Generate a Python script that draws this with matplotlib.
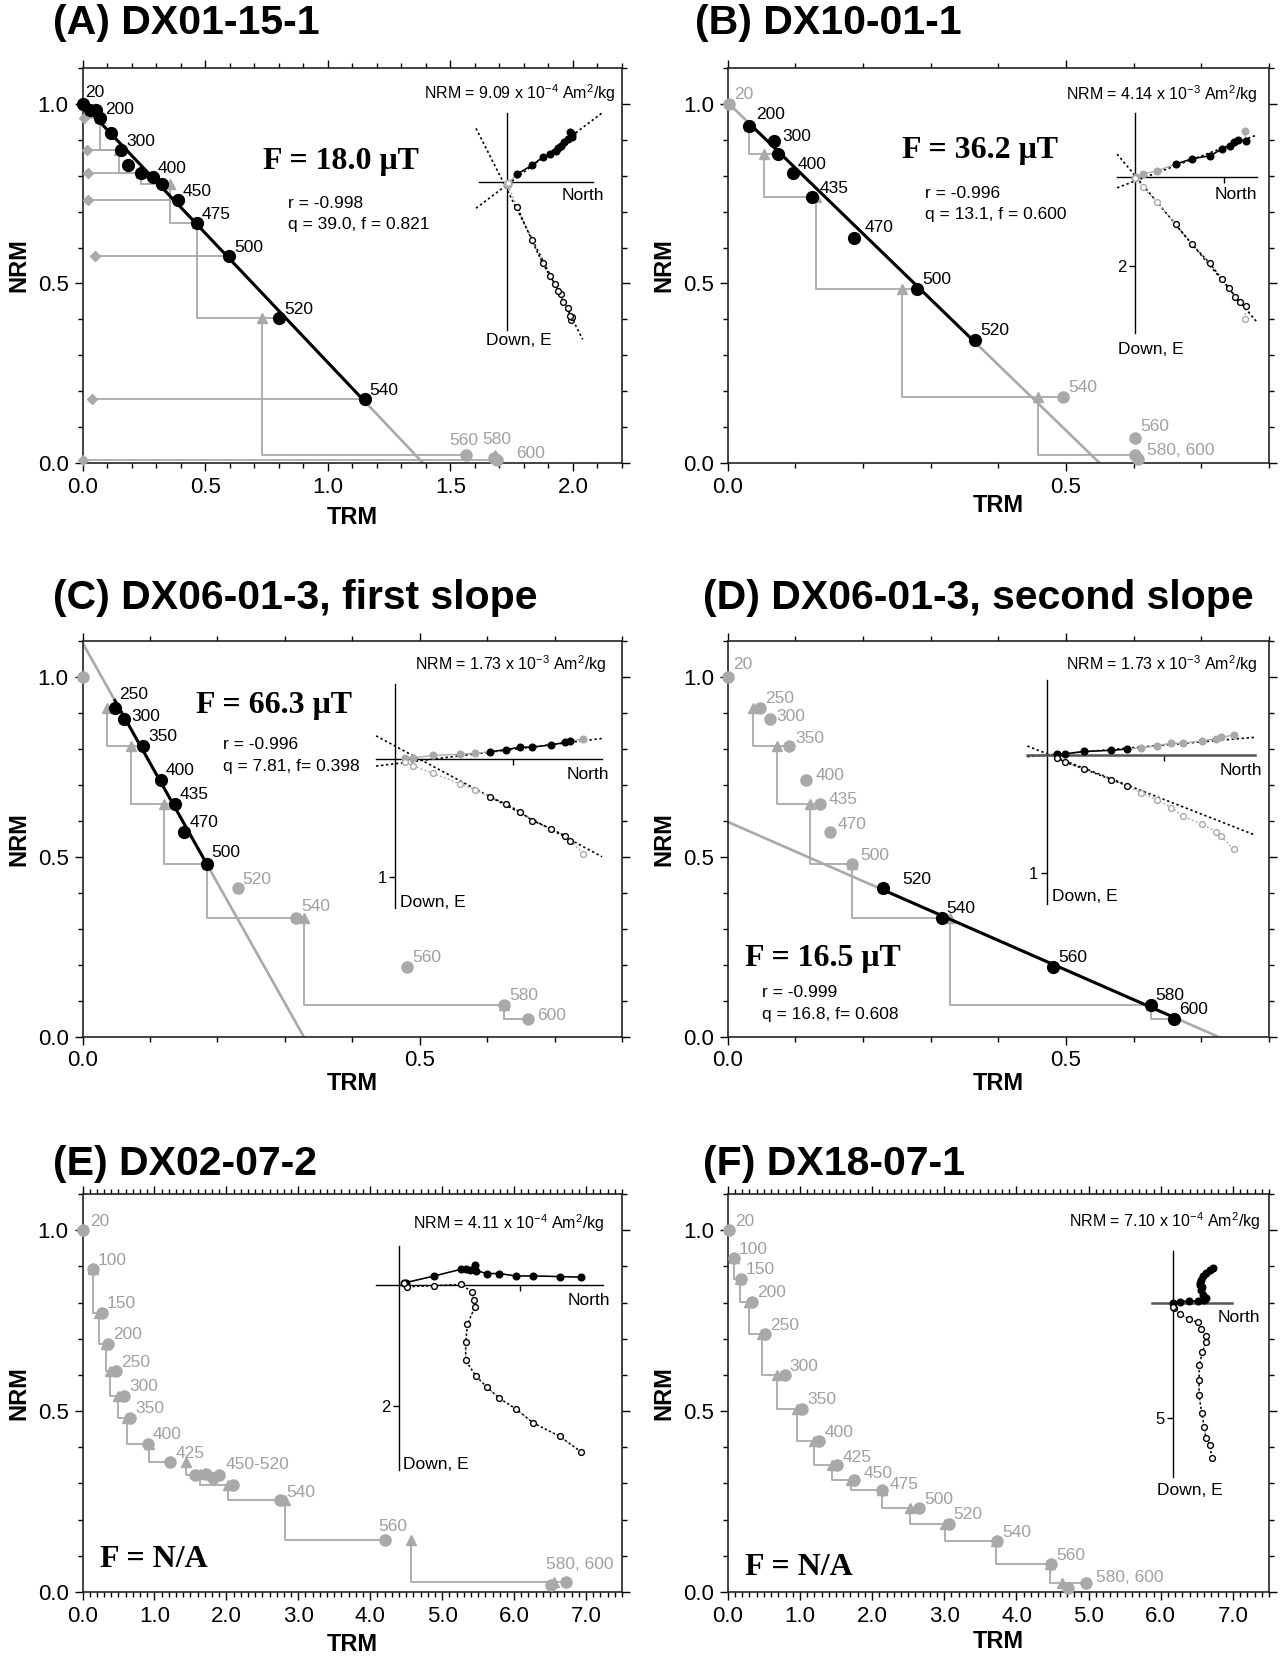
"""Arai plots with Zijderveld insets for six Thellier specimens."""

import matplotlib
matplotlib.use("Agg")
import matplotlib.pyplot as plt
from matplotlib.ticker import FormatStrFormatter, MultipleLocator

plt.rcParams["font.family"] = ["Liberation Sans", "DejaVu Sans"]
plt.rcParams["mathtext.fontset"] = "custom"
plt.rcParams["mathtext.rm"] = "Liberation Sans"
plt.rcParams["mathtext.it"] = "Liberation Sans:italic"
plt.rcParams["mathtext.bf"] = "Liberation Sans:bold"

W, H = 1281, 1659
GRAY = "#a9a9a9"
TEXT_GRAY = "#a0a0a0"

# ---------------- (A) DX01-15-1 ----------------
temps_a = [20, 100, 150, 200, 250, 300, 325, 350, 400, 425, 450, 475, 500, 520, 540, 560, 580, 600]
trm_a = [0.003, 0.030, 0.055, 0.072, 0.117, 0.159, 0.187, 0.237, 0.287, 0.325, 0.389, 0.467,
         0.599, 0.801, 1.150, 1.564, 1.677, 1.689]
nrm_a = [1.000, 0.983, 0.982, 0.960, 0.919, 0.871, 0.829, 0.806, 0.795, 0.776, 0.731, 0.668,
         0.576, 0.404, 0.178, 0.023, 0.016, 0.009]
fit_a = (20, 540)
line_a = (1.0, 1.39)  # y- and x-intercept of the fitted line
checks_a = [(200, 300, 0.072), (300, 350, 0.150), (350, 425, 0.240), (425, 475, 0.356),
            (475, 520, 0.465), (520, 560, 0.730), (560, 580, 1.681)]
tails_a = [(200, 0.007), (300, 0.018), (350, 0.022), (450, 0.022), (500, 0.052), (540, 0.037), (600, 0.0)]
labels_a = [(20, "20"), (200, "200"), (300, "300"), (400, "400"), (450, "450"), (475, "475"),
            (500, "500"), (520, "520"), (540, "540"), (560, "560"), (580, "580"), (600, "600")]
stats_a = ["F = 18.0 μT", "r = -0.998", "q = 39.0, f = 0.821"]
nrm_txt_a = ("9.09", "-4")

# Zijderveld inset A
hn_a = [1.90, 1.97, 1.95, 1.84, 1.72, 1.62, 1.55, 1.48, 1.30, 1.08, 0.75, 0.32, 0.03, 0.02, 0.03]
he_a = [-1.50, -1.43, -1.35, -1.27, -1.20, -1.08, -1.00, -0.93, -0.83, -0.73, -0.49, -0.23, 0.05, 0.06, 0.07]
vn_a = [1.92, 1.97, 1.90, 1.85, 1.70, 1.62, 1.55, 1.45, 1.30, 1.08, 0.75, 0.32, 0.03, 0.02, 0.03]
vd_a = [4.15, 4.05, 4.03, 3.80, 3.62, 3.37, 3.27, 3.08, 2.83, 2.45, 1.75, 0.77, 0.10, 0.08, 0.05]
zfit_a = [(-0.756, 0.10, -0.92, 2.85), (1.978, 0.22, -0.92, 2.28)]

# ---------------- (B) DX10-01-1 ----------------
temps_b = [20, 200, 300, 350, 400, 435, 470, 500, 520, 540, 560, 580, 600]
trm_b = [0.002, 0.032, 0.069, 0.074, 0.096, 0.124, 0.186, 0.280, 0.366, 0.496, 0.602, 0.602, 0.606]
nrm_b = [1.000, 0.938, 0.897, 0.860, 0.806, 0.740, 0.627, 0.485, 0.343, 0.185, 0.071, 0.022, 0.011]
fit_b = (200, 520)
line_b = (1.003, 0.55)
checks_b = [(200, 350, 0.032), (350, 435, 0.053), (435, 500, 0.131), (500, 540, 0.258), (540, 580, 0.459)]
labels_b = [(20, "20"), (200, "200"), (300, "300"), (400, "400"), (435, "435"), (470, "470"),
            (500, "500"), (520, "520"), (540, "540"), (560, "560"), (580, "580, 600")]
stats_b = ["F = 36.2 μT", "r = -0.996", "q = 13.1, f = 0.600"]
nrm_txt_b = ("4.14", "-3")

hn_b = [2.46, 2.48, 2.30, 2.22, 2.13, 1.95, 1.68, 1.27, 0.91, 0.49, 0.17, 0.02, 0.0]
he_b = [-1.03, -0.81, -0.82, -0.78, -0.69, -0.62, -0.47, -0.40, -0.28, -0.13, -0.06, 0.01, 0.02]
vn_b = [2.46, 2.48, 2.34, 2.24, 2.11, 1.94, 1.68, 1.27, 0.91, 0.49, 0.17, 0.02, 0.0]
vd_b = [3.19, 2.89, 2.80, 2.69, 2.50, 2.29, 1.94, 1.51, 1.07, 0.56, 0.24, 0.04, 0.02]
zfit_b = [(-0.378, 0.097, -0.40, 2.72), (1.202, -0.025, -0.40, 2.74)]

# ---------------- (C) / (D) DX06-01-3 ----------------
temps_c = [20, 250, 300, 350, 400, 435, 470, 500, 520, 540, 560, 580, 600]
trm_c = [0.0, 0.048, 0.062, 0.090, 0.116, 0.137, 0.151, 0.184, 0.230, 0.316, 0.481, 0.625, 0.660]
nrm_c = [1.0, 0.915, 0.883, 0.809, 0.714, 0.648, 0.569, 0.481, 0.412, 0.331, 0.194, 0.089, 0.050]
fit_c = (250, 500)
line_c = (1.095, 0.328)
fit_d = (520, 600)
line_d = (0.597, 0.7245)
checks_c = [(250, 350, 0.037), (350, 435, 0.072), (435, 500, 0.121), (500, 540, 0.184),
            (540, 580, 0.329), (580, 600, 0.625)]
labels_c = [(250, "250"), (300, "300"), (350, "350"), (400, "400"), (435, "435"), (470, "470"),
            (500, "500"), (520, "520"), (540, "540"), (560, "560"), (580, "580"), (600, "600")]
labels_d = [(20, "20")] + labels_c
stats_c = ["F = 66.3 μT", "r = -0.996", "q = 7.81, f= 0.398"]
stats_d = ["F = 16.5 μT", "r = -0.999", "q = 16.8, f= 0.608"]
nrm_txt_c = ("1.73", "-3")

hn_c = [1.59, 1.48, 1.44, 1.32, 1.16, 1.06, 0.94, 0.80, 0.68, 0.55, 0.32, 0.155, 0.085]
he_c = [-0.17, -0.15, -0.14, -0.12, -0.10, -0.10, -0.08, -0.06, -0.05, -0.04, -0.03, -0.01, -0.01]
vn_c = [1.59, 1.48, 1.44, 1.32, 1.16, 1.06, 0.94, 0.80, 0.68, 0.55, 0.32, 0.155, 0.085]
vd_c = [0.80, 0.69, 0.65, 0.59, 0.52, 0.45, 0.38, 0.32, 0.26, 0.21, 0.12, 0.06, 0.025]
zfit_c = [(-0.122, 0.04, -0.16, 1.75), (0.535, -0.11, -0.16, 1.75)]
zfit_d = [(-0.085, 0.0, -0.164, 1.77), (0.391, -0.012, -0.164, 1.77)]

# ---------------- (E) DX02-07-2 ----------------
temps_e = [20, 100, 150, 200, 250, 300, 350, 400, 425, 450, 475, 490, 500, 520, 540, 560, 580, 600]
trm_e = [0.01, 0.14, 0.27, 0.36, 0.47, 0.58, 0.66, 0.91, 1.22, 1.56, 1.71, 1.82, 1.90, 2.09,
         2.74, 4.21, 6.72, 6.51]
nrm_e = [1.000, 0.892, 0.772, 0.686, 0.610, 0.542, 0.481, 0.410, 0.359, 0.323, 0.327, 0.315,
         0.324, 0.297, 0.255, 0.145, 0.029, 0.018]
checks_e = [(100, 150, 0.14), (150, 200, 0.23), (200, 250, 0.32), (250, 300, 0.38), (300, 350, 0.50),
            (350, 400, 0.62), (400, 425, 0.92), (425, 450, 1.44), (475, 520, 1.64), (520, 540, 2.02),
            (540, 560, 2.82), (560, 580, 4.56), (580, 600, 6.56)]
labels_e = [(20, "20"), (100, "100"), (150, "150"), (200, "200"), (250, "250"), (300, "300"),
            (350, "350"), (400, "400"), (425, "425"), (520, "450-520"), (540, "540"), (560, "560"),
            (580, "580, 600")]
stats_e = ["F = N/A"]
nrm_txt_e = ("4.11", "-4")

hn_e = [3.02, 2.66, 2.21, 1.93, 1.66, 1.45, 1.27, 1.25, 1.23, 1.17, 1.10, 1.02, 0.58, 0.11, 0.07]
he_e = [-0.13, -0.14, -0.15, -0.15, -0.19, -0.19, -0.24, -0.33, -0.26, -0.25, -0.27, -0.26, -0.15, -0.04, -0.03]
vn_e = [3.02, 2.66, 2.21, 1.93, 1.66, 1.45, 1.27, 1.10, 1.10, 1.13, 1.25, 1.24, 1.20, 1.02, 0.58, 0.12, 0.07]
vd_e = [2.77, 2.51, 2.28, 2.05, 1.88, 1.69, 1.51, 1.25, 0.95, 0.65, 0.37, 0.25, 0.11, -0.01, 0.01, 0.03, -0.03]

# ---------------- (F) DX18-07-1 ----------------
temps_f = [20, 100, 150, 200, 250, 300, 350, 400, 425, 450, 475, 500, 520, 540, 560, 580, 600]
trm_f = [0.015, 0.08, 0.18, 0.34, 0.52, 0.79, 1.03, 1.27, 1.51, 1.75, 2.13, 2.65, 3.06, 3.73,
         4.48, 4.97, 4.72]
nrm_f = [1.000, 0.923, 0.866, 0.802, 0.712, 0.599, 0.507, 0.417, 0.350, 0.309, 0.282, 0.231,
         0.189, 0.140, 0.077, 0.026, 0.012]
checks_f = [(100, 150, 0.09), (150, 200, 0.17), (200, 250, 0.30), (250, 300, 0.47), (300, 350, 0.68),
            (350, 400, 0.96), (400, 425, 1.20), (425, 450, 1.45), (450, 475, 1.71), (475, 500, 2.13),
            (500, 520, 2.52), (520, 540, 3.01), (540, 560, 3.72), (560, 580, 4.47), (580, 600, 4.63)]
labels_f = [(t, str(t)) for t in temps_f[:-2]] + [(580, "580, 600")]
stats_f = ["F = N/A"]
nrm_txt_f = ("7.10", "-4")

hn_f = [1.71, 1.59, 1.42, 1.28, 1.20, 1.17, 1.16, 1.23, 1.19, 1.28, 1.42, 1.38, 1.33, 1.09, 0.70, 0.29, 0.0]
he_f = [-1.52, -1.45, -1.33, -1.19, -1.01, -0.90, -0.80, -0.70, -0.58, -0.36, -0.22, -0.17, -0.14,
        -0.10, -0.10, -0.07, 0.0]
vn_f = [1.68, 1.59, 1.41, 1.35, 1.23, 1.12, 1.12, 1.13, 1.26, 1.41, 1.42, 1.20, 1.06, 0.70, 0.29, 0.02, 0.0]
vd_f = [6.71, 6.16, 5.84, 5.39, 4.75, 3.99, 3.33, 2.68, 2.13, 1.70, 1.42, 1.12, 0.83, 0.70, 0.46, 0.20, 0.14]


panels = [
    dict(title="(A) DX01-15-1", temps=temps_a, trm=trm_a, nrm=nrm_a, fit=fit_a, line=line_a,
         checks=checks_a, tails=tails_a, labels=labels_a, stats=stats_a, nrm_txt=nrm_txt_a,
         xmax=2.2, xmajor=0.5,
         zij=dict(hn=hn_a, he=he_a, vn=vn_a, vd=vd_a, black=slice(0, 12), fits=zfit_a, nt=[], dt=[])),
    dict(title="(B) DX10-01-1", temps=temps_b, trm=trm_b, nrm=nrm_b, fit=fit_b, line=line_b,
         checks=checks_b, tails=[], labels=labels_b, stats=stats_b, nrm_txt=nrm_txt_b,
         xmax=0.8, xmajor=0.5,
         zij=dict(hn=hn_b, he=he_b, vn=vn_b, vd=vd_b, black=slice(1, 9), fits=zfit_b, nt=[2], dt=[2])),
    dict(title="(C) DX06-01-3, first slope", temps=temps_c, trm=trm_c, nrm=nrm_c, fit=fit_c,
         line=line_c, checks=checks_c, tails=[], labels=labels_c, stats=stats_c, nrm_txt=nrm_txt_c,
         xmax=0.8, xmajor=0.5,
         zij=dict(hn=hn_c, he=he_c, vn=vn_c, vd=vd_c, black=slice(1, 8), fits=zfit_c, nt=[1], dt=[1])),
    dict(title="(D) DX06-01-3, second slope", temps=temps_c, trm=trm_c, nrm=nrm_c, fit=fit_d,
         line=line_d, checks=checks_c, tails=[], labels=labels_d, stats=stats_d, nrm_txt=nrm_txt_c,
         xmax=0.8, xmajor=0.5,
         zij=dict(hn=hn_c, he=he_c, vn=vn_c, vd=vd_c, black=slice(8, 13), fits=zfit_d, nt=[1], dt=[1])),
    dict(title="(E) DX02-07-2", temps=temps_e, trm=trm_e, nrm=nrm_e, fit=None, line=None,
         checks=checks_e, tails=[], labels=labels_e, stats=stats_e, nrm_txt=nrm_txt_e,
         xmax=7.5, xmajor=1.0,
         zij=dict(hn=hn_e, he=he_e, vn=vn_e, vd=vd_e, black=slice(0, None), fits=[], nt=[2], dt=[2])),
    dict(title="(F) DX18-07-1", temps=temps_f, trm=trm_f, nrm=nrm_f, fit=None, line=None,
         checks=checks_f, tails=[], labels=labels_f, stats=stats_f, nrm_txt=nrm_txt_f,
         xmax=7.5, xmajor=1.0,
         zij=dict(hn=hn_f, he=he_f, vn=vn_f, vd=vd_f, black=slice(0, None), fits=[], nt=[], dt=[5])),
]

# layout in pixels of the 1281 x 1659 canvas
COLS = [(82.5, 622.0), (727.8, 1269.0)]
ROWS = [(67.7, 463.3), (641.0, 1036.6), (1194.0, 1592.0)]
layout = [
    dict(title_xy=(53, 23), xlab=-0.138, nrm_xy=(0.988, 0.935),
         stat_xy=[(0.738, 0.839), (0.838, 0.722), (0.838, 0.664)],
         offsets={20: (2, 11), 560: (-17, 15), 580: (-11, 18), 600: (19, 7)},
         inset=dict(origin=(506.7, 181.7), unit=33.33, nlim=(-0.82, 2.6), dlim=(-2.05, 4.45),
                    north=(10.7, -6.7), down=(-20.7, -3.3), haxis=("black", 1.0))),
    dict(title_xy=(695, 23), xlab=-0.107, nrm_xy=(0.978, 0.933),
         stat_xy=[(0.258, 0.869), (0.291, 0.751), (0.291, 0.692)],
         offsets={200: (7, 11), 300: (8, 4), 435: (8, 9), 470: (11, 10), 560: (5, 11), 580: (12, 5)},
         inset=dict(origin=(1135.0, 176.7), unit=44.67, nlim=(-0.40, 2.74), dlim=(-1.43, 3.51),
                    north=(0, -10.7), down=(-16.7, -8.3), haxis=("black", 1.0))),
    dict(title_xy=(53, 598), xlab=-0.118, nrm_xy=(0.971, 0.941),
         stat_xy=[(0.168, 0.920), (0.208, 0.811), (0.208, 0.751)],
         offsets={250: (4, 13), 300: (7, 3), 500: (5, 11), 540: (6, 11), 600: (10, 3)},
         inset=dict(origin=(395.0, 759.0), unit=118.3, nlim=(-0.16, 1.75), dlim=(-0.63, 1.26),
                    north=(7, -8.3), down=(5, 12.7), haxis=("black", 1.0))),
    dict(title_xy=(703, 598), xlab=-0.118, nrm_xy=(0.978, 0.941),
         stat_xy=[(0.025, 0.216), (0.050, 0.124), (0.050, 0.062)],
         offsets={20: (5, 12), 300: (7, 3), 350: (7, 7), 400: (9, 4), 435: (8, 4), 470: (8, 7),
                  500: (8, 8), 520: (19, 9)},
         inset=dict(origin=(1046.7, 755.0), unit=117.7, nlim=(-0.164, 1.77), dlim=(-0.64, 1.27),
                    north=(6.7, -8.3), down=(5, 15), haxis=("#555555", 1.8))),
    dict(title_xy=(53, 1164), xlab=-0.133, nrm_xy=(0.968, 0.927),
         stat_xy=[(0.246, 0.089)],
         offsets={20: (7, 9), 520: (-7, 20), 540: (7, 7), 560: (-7, 13), 580: (-20, 17)},
         inset=dict(origin=(399.3, 1285.0), unit=60.33, nlim=(-0.38, 3.38), dlim=(-0.65, 3.07),
                    north=(7.3, -8.3), down=(4, 13), haxis=("black", 1.0))),
    dict(title_xy=(703, 1164), xlab=-0.125, nrm_xy=(0.984, 0.932),
         stat_xy=[(0.232, 0.069)],
         offsets={20: (6, 9), 425: (6, 8), 450: (10, 7), 475: (8, 5), 580: (10, 5)},
         inset=dict(origin=(1173.3, 1303.3), unit=23.0, nlim=(-0.94, 2.54), dlim=(-2.29, 7.54),
                    north=(28.3, -6.7), down=(-16.7, -6.7), haxis=("#555555", 1.8))),
]


def in_fit(fit, t):
    return fit is not None and fit[0] <= t <= fit[1]


def draw_arai(ax, p, lay):
    pos = {t: (x, y) for t, x, y in zip(p["temps"], p["trm"], p["nrm"])}
    fit = p["fit"]

    if p["line"] is not None:
        y0, x0 = p["line"]
        ax.plot([0, x0], [y0, 0], color=GRAY, lw=1.9, zorder=1, solid_capstyle="butt")
        xs = [pos[fit[0]][0], pos[fit[1]][0]]
        ax.plot(xs, [y0 * (1 - x / x0) for x in xs], color="black", lw=2.2, zorder=4)

    for j, i, xc in p["checks"]:
        yj = pos[j][1]
        xi, yi = pos[i]
        ax.plot([xc, xc, xi], [yj, yi, yi], color=GRAY, lw=1.3, zorder=2, clip_on=False)
        ax.plot(xc, yj, "^", color=GRAY, ms=7, zorder=3, clip_on=False)

    for t, xt in p["tails"]:
        x, y = pos[t]
        ax.plot([xt, x], [y, y], color=GRAY, lw=1.3, zorder=2, clip_on=False)
        ax.plot(xt, y, "D", color=GRAY, ms=5, zorder=3, clip_on=False)

    for t, x, y in zip(p["temps"], p["trm"], p["nrm"]):
        black = in_fit(fit, t)
        ax.plot(x, y, "o", color="black" if black else GRAY, ms=8.5 if black else 8,
                zorder=5 if black else 3, clip_on=False)

    for t, text in p["labels"]:
        dx, dy = lay["offsets"].get(t, (5, 9))
        ax.annotate(text, pos[t], xytext=(dx, dy), textcoords="offset pixels",
                    ha="left", va="center", fontsize=12.5,
                    color="black" if in_fit(fit, t) else TEXT_GRAY, zorder=6)

    (fx, fy) = lay["stat_xy"][0]
    ax.text(fx, fy, p["stats"][0], family=["Liberation Serif", "DejaVu Serif"],
            fontweight="bold", fontsize=23, va="center", ha="left")
    for (sx, sy), s in zip(lay["stat_xy"][1:], p["stats"][1:]):
        ax.text(sx, sy, s, fontsize=12.5, va="center", ha="left")

    val, exp = p["nrm_txt"]
    ax.text(lay["nrm_xy"][0], lay["nrm_xy"][1],
            "NRM = %s x 10$^{%s}$ Am$^{2}$/kg" % (val, exp),
            transform=ax.transAxes, ha="right", va="center", fontsize=11.5)

    ax.set_xlim(0, p["xmax"])
    ax.set_ylim(0, 1.1)
    ax.xaxis.set_major_locator(MultipleLocator(p["xmajor"]))
    ax.xaxis.set_minor_locator(MultipleLocator(0.1))
    ax.yaxis.set_major_locator(MultipleLocator(0.5))
    ax.yaxis.set_minor_locator(MultipleLocator(0.1))
    ax.xaxis.set_major_formatter(FormatStrFormatter("%.1f"))
    ax.yaxis.set_major_formatter(FormatStrFormatter("%.1f"))
    ax.tick_params(which="both", direction="out", top=True, right=True, width=1.0,
                   labelsize=16, pad=4)
    ax.tick_params(which="major", length=6)
    ax.tick_params(which="minor", length=3.5)
    for sp in ax.spines.values():
        sp.set_linewidth(1.2)
        sp.set_color("#222222")

    ax.set_xlabel("TRM", fontsize=17, fontweight="bold", va="center")
    ax.set_ylabel("NRM", fontsize=17, fontweight="bold", va="center")
    ax.xaxis.set_label_coords(0.5, lay["xlab"])
    ax.yaxis.set_label_coords(-0.118, 0.5)


def draw_zijd(fig, z, lay):
    (ox, oy), u = lay["origin"], lay["unit"]
    n0, n1 = lay["nlim"]
    d0, d1 = lay["dlim"]
    rect = [(ox + n0 * u) / W, 1 - (oy + d1 * u) / H, (n1 - n0) * u / W, (d1 - d0) * u / H]
    ax = fig.add_axes(rect)
    ax.set_xlim(n0, n1)
    ax.set_ylim(d1, d0)
    ax.patch.set_alpha(0)
    for side in ("top", "right"):
        ax.spines[side].set_visible(False)
    ax.spines["left"].set_position(("data", 0))
    ax.spines["bottom"].set_position(("data", 0))
    ax.spines["left"].set_linewidth(1.0)
    ax.spines["bottom"].set_color(lay["haxis"][0])
    ax.spines["bottom"].set_linewidth(lay["haxis"][1])

    for slope, icpt, a, b in z["fits"]:
        ax.plot([a, b], [icpt + slope * a, icpt + slope * b], color="black",
                ls=(0, (1.4, 1.6)), lw=1.2, zorder=1, clip_on=False)

    for n, v, filled in ((z["hn"], z["he"], True), (z["vn"], z["vd"], False)):
        ls = "-" if filled else (0, (1.4, 1.6))
        blk = set(range(len(n))[z["black"]])
        ax.plot(n, v, color=GRAY, ls=ls, lw=1.0, zorder=2, clip_on=False)
        ax.plot(n[z["black"]], v[z["black"]], color="black", ls=ls, lw=1.1, zorder=2, clip_on=False)
        for k, (x, y) in enumerate(zip(n, v)):
            c = "black" if k in blk else GRAY
            ax.plot(x, y, "o", ms=4.8 if filled else 4.2, mfc=c if filled else "white",
                    mec=c, mew=1.0, zorder=3, clip_on=False)

    ax.set_xticks(z["nt"])
    ax.set_xticklabels([])
    ax.set_yticks(z["dt"])
    ax.set_yticklabels([str(t) for t in z["dt"]])
    ax.tick_params(direction="out", length=4, width=1.0, labelsize=12, pad=2)

    ax.annotate("North", (n1, 0), xytext=lay["north"], textcoords="offset pixels",
                ha="right", va="top", fontsize=12.5)
    ax.annotate("Down, E", (0, d1), xytext=lay["down"], textcoords="offset pixels",
                ha="left", va="top", fontsize=12.5, annotation_clip=False)


def main() -> None:
    fig = plt.figure(figsize=(W / 100, H / 100), dpi=100)
    for k, (p, lay) in enumerate(zip(panels, layout)):
        x0, x1 = COLS[k % 2]
        y0, y1 = ROWS[k // 2]
        ax = fig.add_axes([x0 / W, 1 - y1 / H, (x1 - x0) / W, (y1 - y0) / H])
        draw_arai(ax, p, lay)
        draw_zijd(fig, p["zij"], lay["inset"])
        tx, ty = lay["title_xy"]
        fig.text(tx / W, 1 - ty / H, p["title"], fontsize=29.5, fontweight="bold",
                 ha="left", va="center")
    fig.savefig("out.png", dpi=100)


if __name__ == "__main__":
    main()
